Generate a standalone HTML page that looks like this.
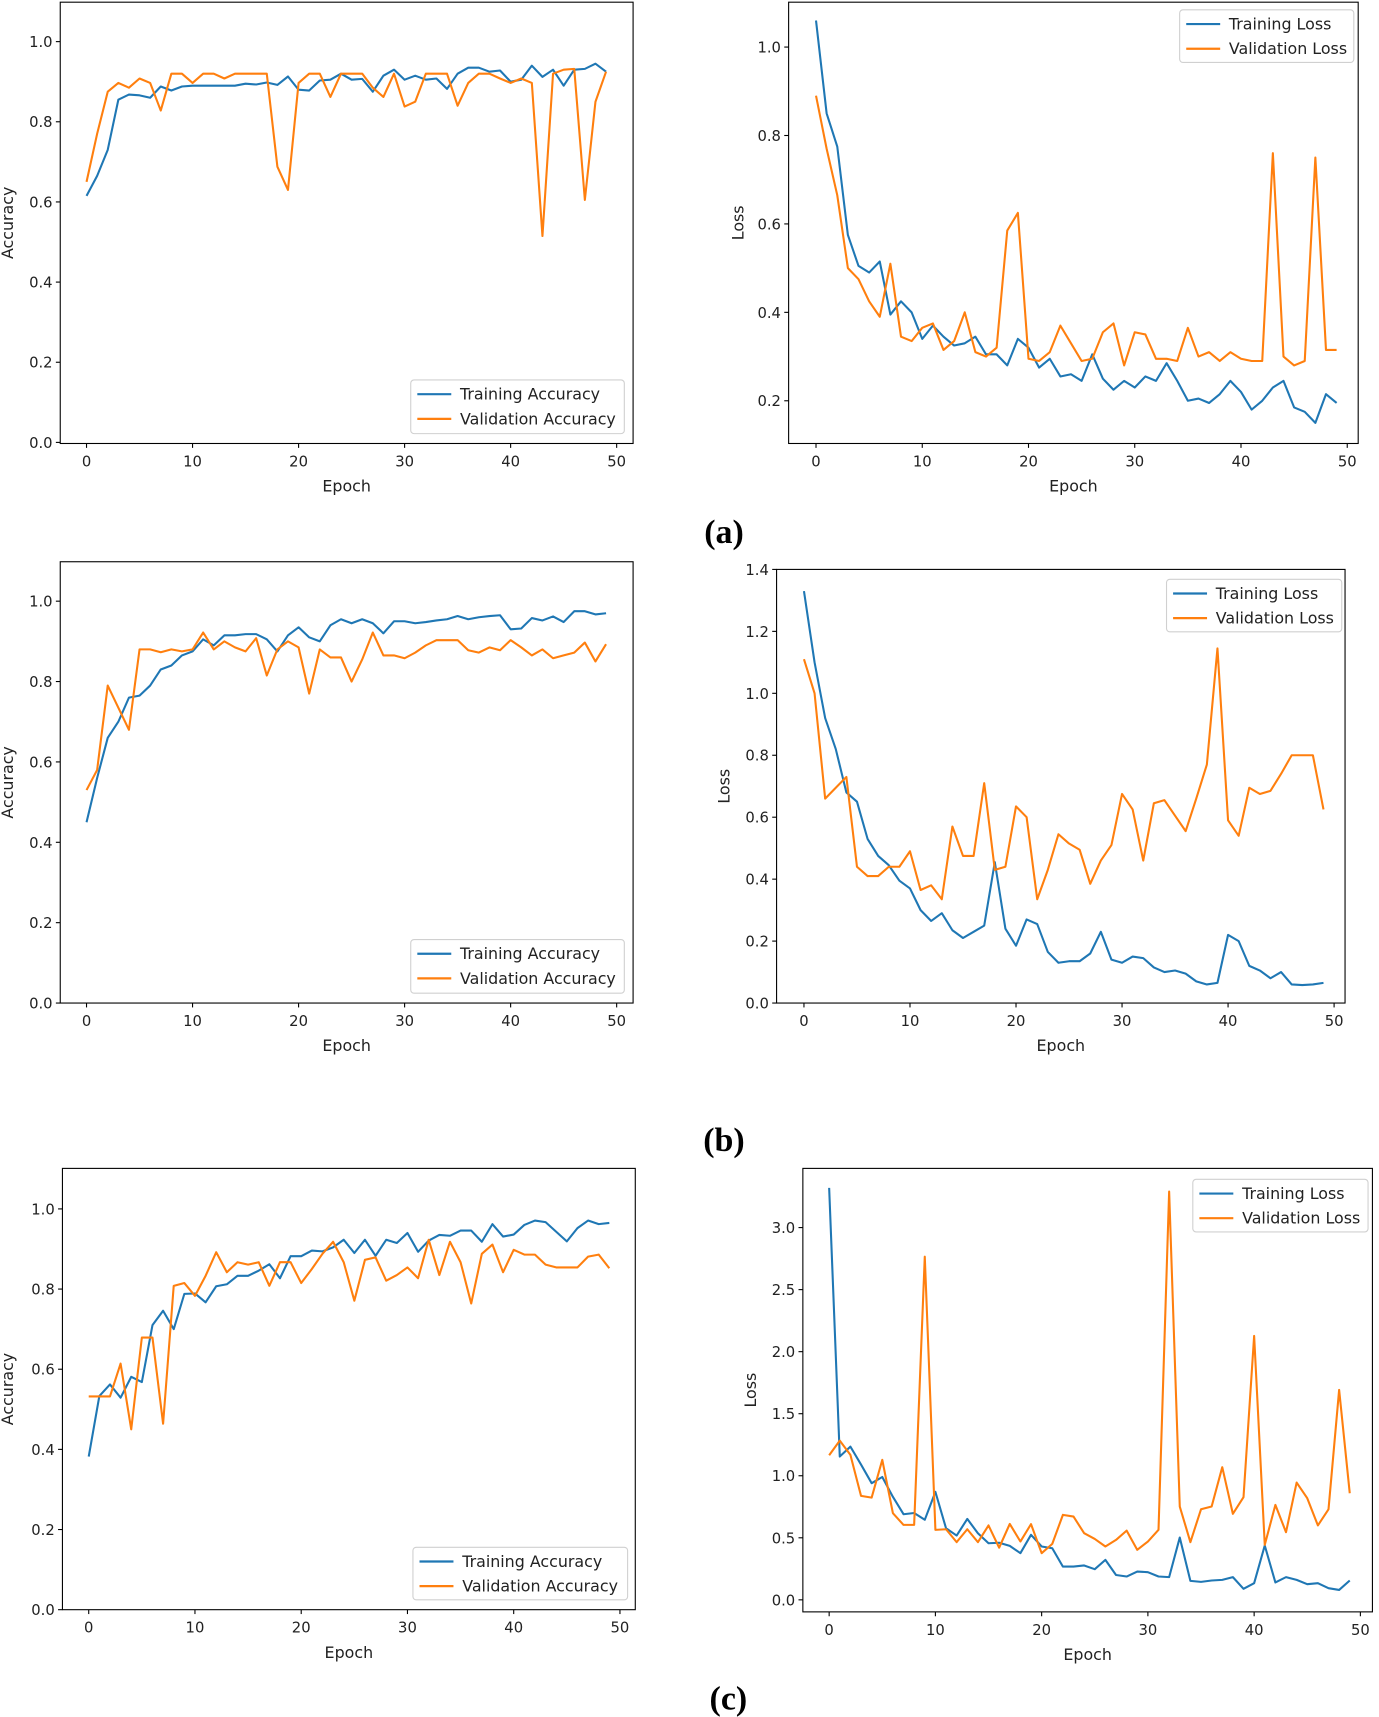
<!DOCTYPE html>
<html><head><meta charset="utf-8">
<style>
html,body{margin:0;padding:0;background:#fff;}
svg{display:block;}
text{font-family:"DejaVu Sans","Liberation Sans",sans-serif;fill:#222;}
</style></head>
<body>
<svg id="fig" width="1379" height="1717" viewBox="0 0 1259 1568" preserveAspectRatio="none" xmlns="http://www.w3.org/2000/svg">
<text x="661" y="496" text-anchor="middle" style="font-family:'Liberation Serif',serif;font-weight:bold;font-size:31px;fill:#000">(a)</text>
<text x="661" y="1051" text-anchor="middle" style="font-family:'Liberation Serif',serif;font-weight:bold;font-size:31px;fill:#000">(b)</text>
<text x="665" y="1561" text-anchor="middle" style="font-family:'Liberation Serif',serif;font-weight:bold;font-size:31px;fill:#000">(c)</text>
</svg>
<script>
const epochs = Array.from({length:50},(_,i)=>i);
const xTicks = [0,10,20,30,40,50];

const aAccTrain = [0.615,0.665,0.73,0.855,0.868,0.866,0.86,0.888,0.878,0.888,0.89,0.89,0.89,0.89,0.89,0.895,0.893,0.898,0.892,0.913,0.88,0.878,0.903,0.905,0.92,0.905,0.907,0.875,0.915,0.93,0.905,0.915,0.905,0.908,0.882,0.92,0.935,0.935,0.925,0.928,0.9,0.905,0.94,0.912,0.93,0.89,0.93,0.932,0.945,0.925];
const aAccVal = [0.65,0.77,0.875,0.897,0.885,0.908,0.897,0.828,0.92,0.92,0.897,0.92,0.92,0.908,0.92,0.92,0.92,0.92,0.688,0.63,0.897,0.92,0.92,0.862,0.92,0.92,0.92,0.885,0.862,0.92,0.838,0.85,0.92,0.92,0.92,0.84,0.897,0.92,0.92,0.908,0.897,0.908,0.897,0.515,0.92,0.93,0.932,0.605,0.85,0.925];
const aLossTrain = [1.06,0.85,0.775,0.575,0.505,0.49,0.515,0.395,0.425,0.4,0.34,0.37,0.345,0.325,0.33,0.345,0.305,0.305,0.28,0.34,0.32,0.275,0.295,0.255,0.26,0.245,0.305,0.25,0.225,0.245,0.23,0.255,0.245,0.285,0.245,0.2,0.205,0.195,0.215,0.245,0.22,0.18,0.2,0.23,0.245,0.185,0.175,0.15,0.215,0.195];
const aLossVal = [0.89,0.77,0.665,0.5,0.475,0.425,0.39,0.51,0.345,0.335,0.365,0.375,0.315,0.335,0.4,0.31,0.3,0.32,0.585,0.625,0.295,0.29,0.31,0.37,0.33,0.29,0.295,0.355,0.375,0.28,0.355,0.35,0.295,0.295,0.29,0.365,0.3,0.31,0.29,0.31,0.295,0.29,0.29,0.76,0.3,0.28,0.29,0.75,0.315,0.315];

const bAccTrain = [0.45,0.56,0.66,0.7,0.76,0.765,0.79,0.83,0.84,0.865,0.875,0.905,0.89,0.915,0.915,0.918,0.918,0.905,0.875,0.915,0.935,0.91,0.9,0.94,0.955,0.945,0.955,0.945,0.92,0.95,0.95,0.945,0.948,0.952,0.955,0.963,0.955,0.96,0.963,0.965,0.93,0.932,0.958,0.952,0.962,0.948,0.975,0.975,0.967,0.97];
const bAccVal = [0.53,0.58,0.79,0.735,0.68,0.88,0.88,0.873,0.88,0.875,0.88,0.922,0.88,0.9,0.885,0.875,0.908,0.815,0.88,0.9,0.885,0.77,0.88,0.86,0.86,0.8,0.855,0.922,0.865,0.865,0.858,0.872,0.89,0.903,0.903,0.903,0.878,0.872,0.885,0.878,0.903,0.885,0.865,0.88,0.858,0.865,0.872,0.897,0.85,0.893];
const bLossTrain = [1.33,1.1,0.92,0.82,0.68,0.65,0.53,0.475,0.445,0.395,0.37,0.3,0.265,0.29,0.235,0.21,0.23,0.25,0.455,0.24,0.185,0.27,0.255,0.165,0.13,0.135,0.135,0.16,0.23,0.14,0.13,0.15,0.145,0.115,0.1,0.105,0.095,0.07,0.06,0.065,0.22,0.2,0.12,0.105,0.08,0.1,0.06,0.058,0.06,0.065];
const bLossVal = [1.11,1.0,0.66,0.695,0.73,0.44,0.41,0.41,0.44,0.44,0.49,0.365,0.38,0.335,0.57,0.475,0.475,0.71,0.43,0.44,0.635,0.6,0.335,0.43,0.545,0.515,0.495,0.385,0.46,0.51,0.675,0.625,0.46,0.645,0.655,0.605,0.555,0.66,0.77,1.145,0.59,0.54,0.695,0.675,0.685,0.74,0.8,0.8,0.8,0.625];

const cAccTrain = [0.382,0.533,0.562,0.529,0.581,0.568,0.71,0.746,0.7,0.788,0.789,0.767,0.807,0.812,0.833,0.833,0.846,0.862,0.827,0.882,0.882,0.896,0.894,0.904,0.923,0.89,0.923,0.883,0.923,0.915,0.94,0.893,0.921,0.935,0.933,0.946,0.946,0.918,0.962,0.931,0.936,0.96,0.971,0.967,0.943,0.919,0.952,0.971,0.962,0.965];
const cAccVal = [0.532,0.532,0.532,0.614,0.45,0.679,0.679,0.464,0.808,0.815,0.783,0.833,0.892,0.842,0.867,0.861,0.867,0.808,0.867,0.867,0.815,0.85,0.888,0.918,0.867,0.771,0.873,0.879,0.821,0.835,0.854,0.827,0.923,0.835,0.918,0.867,0.764,0.888,0.911,0.842,0.898,0.886,0.886,0.861,0.854,0.854,0.854,0.881,0.886,0.852];
const cLossTrain = [3.32,1.155,1.235,1.09,0.94,0.99,0.83,0.69,0.7,0.645,0.87,0.577,0.518,0.652,0.537,0.456,0.46,0.435,0.376,0.524,0.43,0.416,0.268,0.268,0.277,0.247,0.322,0.2,0.188,0.228,0.223,0.188,0.183,0.502,0.153,0.145,0.156,0.161,0.183,0.089,0.134,0.438,0.14,0.183,0.161,0.126,0.134,0.094,0.08,0.156];
const cLossVal = [1.165,1.283,1.168,0.838,0.824,1.128,0.698,0.604,0.604,2.766,0.564,0.569,0.465,0.569,0.465,0.6,0.42,0.612,0.47,0.61,0.376,0.451,0.685,0.671,0.537,0.491,0.43,0.483,0.558,0.403,0.47,0.564,3.29,0.752,0.465,0.73,0.752,1.069,0.693,0.827,2.127,0.443,0.765,0.545,0.945,0.819,0.6,0.73,1.692,0.859];

const accTicks = [0.0,0.2,0.4,0.6,0.8,1.0];
const lossTicksA = [0.2,0.4,0.6,0.8,1.0];
const lossTicksB = [0.0,0.2,0.4,0.6,0.8,1.0,1.2,1.4];
const lossTicksC = [0.0,0.5,1.0,1.5,2.0,2.5,3.0];

const svg = document.getElementById('fig');
const NS = 'http://www.w3.org/2000/svg';
function mk(tag, attrs){const e=document.createElementNS(NS,tag);for(const k in attrs)e.setAttribute(k,attrs[k]);svg.appendChild(e);return e;}

function chart(cfg){
  const {L,R,T,B,x0px,x50px,ymin,ymax,yTicks,yDec,ylabel,ylabelX,series,names,legend,id} = cfg;
  const xs = v => x0px + (x50px-x0px)*v/50;
  const ys = v => B - (v-ymin)/(ymax-ymin)*(B-T);
  // series
  const colors=['#1f77b4','#ff7f0e'];
  series.forEach((arr,si)=>{
    const pts = arr.map((v,i)=>xs(epochs[i]).toFixed(2)+','+ys(v).toFixed(2)).join(' ');
    const pl = mk('polyline',{points:pts,fill:'none',stroke:colors[si],'stroke-width':1.9,'stroke-linejoin':'round'});
    
    
  });
  // frame
  const fr = mk('rect',{x:L,y:T,width:R-L,height:B-T,fill:'none',stroke:'#000','stroke-width':1});
  
  
  // x ticks
  xTicks.forEach(t=>{
    const x=xs(t);
    const tk=mk('line',{x1:x,y1:B,x2:x,y2:B+4,stroke:'#000','stroke-width':1});
    
    
    const tx=mk('text',{x:x,y:B+21,'text-anchor':'middle','font-size':13.5});
    tx.textContent=String(t);
    
    
  });
  yTicks.forEach(t=>{
    const y=ys(t);
    const tk=mk('line',{x1:L-4,y1:y,x2:L,y2:y,stroke:'#000','stroke-width':1});
    
    
    const tx=mk('text',{x:L-7,y:y+5,'text-anchor':'end','font-size':13.5});
    tx.textContent=t.toFixed(yDec);
    
    
  });
  const xl=mk('text',{x:(L+R)/2,y:B+44,'text-anchor':'middle','font-size':14.5});
  xl.textContent='Epoch';
  
  
  const yc=(T+B)/2;
  const yl=mk('text',{x:ylabelX,y:yc,'text-anchor':'middle','font-size':14.5,transform:'rotate(-90 '+ylabelX+' '+yc+')'});
  yl.textContent=ylabel;
  
  
  // legend
  const [lx,ly,lw,lh]=legend;
  const lb=mk('rect',{x:lx,y:ly,width:lw,height:lh,rx:3,fill:'#fff','fill-opacity':0.85,stroke:'#d0d0d0','stroke-width':1});
  
  
  names.forEach((n,i)=>{
    const yy=ly+13+i*22.5;
    const ln=mk('line',{x1:lx+6,y1:yy,x2:lx+37,y2:yy,stroke:colors[i],'stroke-width':2});
    
    
    const tx=mk('text',{x:lx+45,y:yy+5,'font-size':14.5});
    tx.textContent=n;
    
    
  });
}

chart({id:'a-accuracy',L:55,R:578,T:2,B:405,x0px:79,x50px:563,ymin:-0.0027,ymax:1.0984,yTicks:accTicks,yDec:1,ylabel:'Accuracy',ylabelX:12,
  series:[aAccTrain,aAccVal],names:['Training Accuracy','Validation Accuracy'],legend:[375,347,195,49]});
chart({id:'a-loss',L:720,R:1240,T:2,B:405,x0px:745,x50px:1230,ymin:0.1034,ymax:1.1015,yTicks:lossTicksA,yDec:1,ylabel:'Loss',ylabelX:679,
  series:[aLossTrain,aLossVal],names:['Training Loss','Validation Loss'],legend:[1077,9,159,48]});
chart({id:'b-accuracy',L:55,R:578,T:513,B:916,x0px:79,x50px:563,ymin:0,ymax:1.0981,yTicks:accTicks,yDec:1,ylabel:'Accuracy',ylabelX:12,
  series:[bAccTrain,bAccVal],names:['Training Accuracy','Validation Accuracy'],legend:[375,858,195,49]});
chart({id:'b-loss',L:709,R:1228,T:520,B:916,x0px:734,x50px:1218,ymin:0,ymax:1.4,yTicks:lossTicksB,yDec:1,ylabel:'Loss',ylabelX:666,
  series:[bLossTrain,bLossVal],names:['Training Loss','Validation Loss'],legend:[1065,529,160,48]});
chart({id:'c-accuracy',L:57,R:580,T:1067,B:1470,x0px:81,x50px:566,ymin:0,ymax:1.1011,yTicks:accTicks,yDec:1,ylabel:'Accuracy',ylabelX:12,
  series:[cAccTrain,cAccVal],names:['Training Accuracy','Validation Accuracy'],legend:[377,1413,196,48]});
chart({id:'c-loss',L:733,R:1253,T:1067,B:1472,x0px:757,x50px:1242,ymin:-0.097,ymax:3.477,yTicks:lossTicksC,yDec:1,ylabel:'Loss',ylabelX:690,
  series:[cLossTrain,cLossVal],names:['Training Loss','Validation Loss'],legend:[1089,1077,160,48]});
</script>
</body></html>
